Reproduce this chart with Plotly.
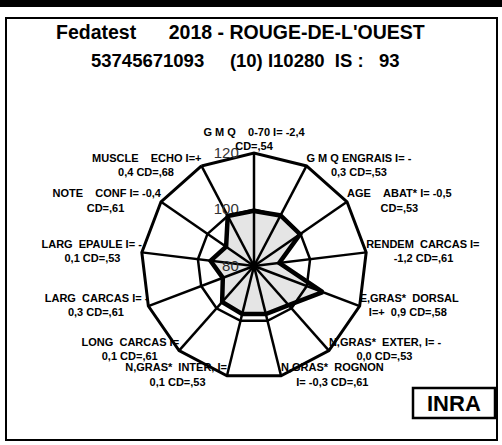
import plotly.graph_objects as go

# ---- data ----
categories = ["GMQ 0-70", "GMQ ENGRAIS", "AGE ABAT", "RENDEM CARCAS", "E,GRAS DORSAL",
              "N,GRAS EXTER", "N,GRAS ROGNON", "N,GRAS INTER", "LONG CARCAS",
              "LARG CARCAS", "LARG EPAULE", "NOTE CONF", "MUSCLE ECHO"]
label_line1 = ["G M Q    0-70 I= -2,4", "G M Q ENGRAIS I= -", "AGE    ABAT* I= -0,5",
               "RENDEM  CARCAS I=", "E,GRAS*  DORSAL", "N,GRAS*  EXTER, I= -",
               "N,GRAS*  ROGNON", "N,GRAS*  INTER, I=", "LONG  CARCAS I=",
               "LARG  CARCAS I= -", "LARG  EPAULE I= -", "NOTE    CONF I= -0,4",
               "MUSCLE    ECHO I=+"]
label_line2 = ["CD=,54", "0,3 CD=,53", "CD=,53", "-1,2 CD=,61", "I=+  0,9 CD=,58",
               "0,0 CD=,53", "I= -0,3 CD=,61", "0,1 CD=,53", "0,1 CD=,61",
               "0,3 CD=,61", "0,1 CD=,53", "CD=,61", "0,4 CD=,68"]
values = [99.5, 100.2, 99.8, 89.0, 106.0, 98.5, 97.5, 97.5, 97.0, 91.8, 95.5, 92.0, 100.0]
radial_ticks = [80, 100, 120]
title1 = "Fedatest      2018 - ROUGE-DE-L'OUEST"
title2 = "53745671093     (10) I10280  IS :   93"

W, H = 502, 445
FONT = "Liberation Sans, Arial, sans-serif"

# approximate Arial-bold advance widths (em) used only to centre the two label lines
_BW = {" ": .278, "\u00a0": .278, "*": .389, ",": .278, "-": .333, "=": .584, "+": .584,
       "'": .238, "I": .278, "0": .556, "1": .556, "2": .556, "3": .556, "4": .556,
       "5": .556, "6": .556, "7": .556, "8": .556, "9": .556, "A": .722, "B": .722,
       "C": .722, "D": .722, "E": .667, "F": .611, "G": .778, "H": .722, "L": .611,
       "M": .833, "N": .722, "O": .778, "P": .667, "Q": .778, "R": .722, "S": .667,
       "T": .611, "U": .722, "V": .667, "X": .667, "Y": .667}

def tw(s):
    return sum(_BW.get(c, .6) for c in s)

def nb(s):
    return s.replace(" ", "\u00a0")

def centred(a, b, pos):
    # pad the shorter line so that both lines look centred on each other
    wa, wb = tw(a), tw(b)
    if "center" in pos:
        return nb(a) + "<br>" + nb(b)
    k = int(round(abs(wa - wb) / 2 / .278))
    pad = "\u00a0" * k
    if "right" in pos:      # left-aligned lines
        if wa > wb:
            b = pad + b
        else:
            a = pad + a
    else:                   # right-aligned lines
        if wa > wb:
            b = b + pad
        else:
            a = a + pad
    return nb(a) + "<br>" + nb(b)

n = len(categories)
positions = ["top center"] + ["middle right"] * 6 + ["middle left"] * 6
labels = [centred(a, b, p) for a, b, p in zip(label_line1, label_line2, positions)]

fig = go.Figure()
fig.add_trace(go.Scatterpolar(
    r=values + values[:1],
    theta=categories + categories[:1],
    mode="lines",
    line=dict(color="black", width=4.5),
    fill="toself",
    fillcolor="rgba(0,0,0,0.10)",
    showlegend=False,
    hoverinfo="skip",
))
fig.add_trace(go.Scatterpolar(
    r=[radial_ticks[-1]] * n,
    theta=categories,
    mode="text",
    text=labels,
    textposition=positions,
    textfont=dict(size=11, color="black", family=FONT, weight="bold"),
    cliponaxis=False,
    showlegend=False,
    hoverinfo="skip",
))

cx, cy, R = 254, 266, 113
fig.update_layout(
    width=W, height=H,
    margin=dict(l=0, r=0, t=0, b=0),
    paper_bgcolor="white",
    font=dict(family=FONT),
    polar=dict(
        domain=dict(x=[(cx - R) / W, (cx + R) / W], y=[(H - cy - R) / H, (H - cy + R) / H]),
        gridshape="linear",
        bgcolor="white",
        radialaxis=dict(range=[80, 120], tickvals=radial_ticks,
                        ticktext=[str(t) + "\u00a0\u00a0\u00a0" for t in radial_ticks],
                        angle=90, tickangle=90,
                        side="counterclockwise", showline=False, ticks="",
                        showgrid=True, gridcolor="black", gridwidth=2.5,
                        tickfont=dict(size=15, color="#333333", family=FONT),
                        layer="below traces"),
        angularaxis=dict(type="category", categoryorder="array", categoryarray=categories,
                         direction="clockwise", rotation=90,
                         showticklabels=False,
                         showline=True, linecolor="black", linewidth=3,
                         gridcolor="black", gridwidth=2.5, ticks="",
                         layer="below traces"),
    ),
)

def px(x):
    return x / W

def py(y):
    return 1 - y / H

shapes = [
    dict(type="rect", xref="paper", yref="paper", x0=0, x1=1, y0=py(7), y1=1,
         fillcolor="black", line=dict(width=0), layer="above"),
    dict(type="rect", xref="paper", yref="paper", x0=px(6), x1=px(497), y0=py(440), y1=py(18),
         line=dict(color="black", width=2), fillcolor="rgba(0,0,0,0)"),
    dict(type="rect", xref="paper", yref="paper", x0=px(413), x1=px(495), y0=py(418), y1=py(388),
         line=dict(color="black", width=2.5), fillcolor="rgba(0,0,0,0)"),
]
ann_common = dict(xref="paper", yref="paper", showarrow=False, xanchor="center", yanchor="middle")
annotations = [
    dict(text="<b>" + nb(title1) + "</b>", x=px(240), y=py(32),
         font=dict(size=19.5, color="black", family=FONT), **ann_common),
    dict(text="<b>" + nb(title2) + "</b>", x=px(245), y=py(61),
         font=dict(size=18.5, color="black", family=FONT), **ann_common),
    dict(text="<b>INRA</b>", x=px(454), y=py(403),
         font=dict(size=22, color="black", family=FONT), **ann_common),
]
fig.update_layout(shapes=shapes, annotations=annotations)

fig.write_html("out.html", config={"displayModeBar": False, "staticPlot": True})

# remove the default page margin so the figure sits at the window origin
with open("out.html", "r", encoding="utf-8") as f:
    html = f.read()
html = html.replace("<body>", '<body style="margin:0;padding:0;overflow:hidden">', 1)
with open("out.html", "w", encoding="utf-8") as f:
    f.write(html)
